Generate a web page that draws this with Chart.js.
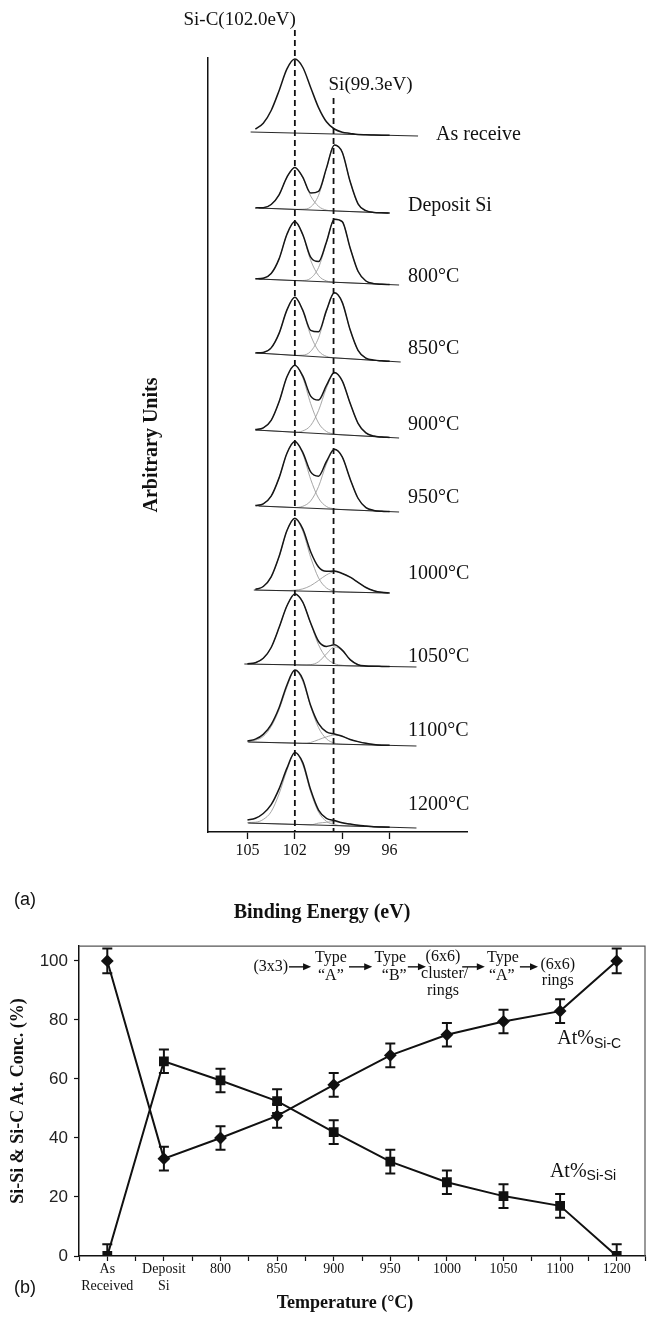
<!DOCTYPE html>
<html>
<head>
<meta charset="utf-8">
<title>Si 2p XPS and Si-Si / Si-C concentration</title>
<script src="https://cdn.jsdelivr.net/npm/chart.js@4.4.1/dist/chart.umd.min.js"></script>
<style>
  html, body { margin: 0; padding: 0; background: #fff; }
  #wrap { position: relative; width: 661px; height: 1326px; overflow: hidden; }
  #xps { position: absolute; left: 0; top: 0; width: 661px; height: 930px; }
  #conc { position: absolute; left: 0; top: 930px; width: 661px; height: 396px; }
</style>
</head>
<body>
<div id="wrap">
  <canvas id="xps" width="661" height="930"></canvas>
  <canvas id="conc" width="661" height="396"></canvas>
</div>
<script>
const SERIF = '"Liberation Serif", "Times New Roman", serif';
const SANS = '"Liberation Sans", Arial, sans-serif';
const INK = '#111';

// ---------- (a) stacked Si 2p spectra ----------
const energy = [105, 104.5, 104, 103.5, 103, 102.5, 102, 101.5, 101, 100.5, 100, 99.5, 99, 98.5, 98, 97.5, 97, 96.5, 96];
const energyTicks = [105, 102, 99, 96];
const sampleNames = ['As receive', 'Deposit Si', '800°C', '850°C', '900°C', '950°C', '1000°C', '1050°C', '1100°C', '1200°C'];
const peakSiC = 102.0;
const peakSi = 99.55; // where the dashed Si line sits in the figure
// linear background under each spectrum (energy and height at both ends)
const bgFrom = [104.8, 104.3, 104.3, 104.4, 104.5, 104.3, 104.6, 105.2, 104.95, 104.95];
const bgTo = [94.2, 96.1, 95.4, 95.3, 95.4, 95.4, 96.1, 94.3, 94.3, 94.3];
const bgLeft = [700, 624, 553, 479, 402, 326, 242, 168, 90, 9];
const bgRight = [696, 619, 547, 470, 394, 320, 239, 165, 86, 4];
// fitted envelope, height above background
const envelope = [
  [null, 3, 9, 22, 42, 64, 74, 66, 46, 26, 12, 5, 2, 1, 0, 0, 0, 0, 0],
  [null, 0, 0.5, 4, 14, 32, 42, 32.5, 17, 19, 42.5, 66, 59, 30, 8, 1.5, 0, 0, 0],
  [null, 0, 1, 6, 21, 46, 59, 46.4, 24, 20, 40, 63, 61, 35, 12, 2.6, 0.3, 0, 0],
  [null, 0, 1, 6, 21, 45, 58, 45.7, 26, 25, 47, 65, 56, 29, 9, 1.7, 0.2, 0, 0],
  [null, 0.4, 2.5, 10.5, 29.5, 55, 67, 56.7, 37, 33.5, 48.5, 62, 54, 32, 12.4, 3.2, 0.5, 0, 0],
  [null, 0.4, 2.4, 10.4, 29, 54, 66, 55.6, 36.3, 32.4, 47.4, 59.9, 52.6, 31, 12, 3, 0.5, 0, 0],
  [null, 0.7, 3.7, 13.5, 34, 60.2, 72.7, 62.2, 39.6, 24.5, 20.4, 20.7, 18.5, 15, 10, 5, 2, 0.5, 0],
  [0.3, 1.5, 6, 17, 37, 59, 71, 63, 42.2, 24, 19, 20.7, 15.6, 6.2, 1.3, 0.2, 0, 0, 0],
  [1, 3, 8, 18, 35, 58, 73, 64, 38, 20, 12, 10, 8, 5, 3, 1.5, 0.5, 0, 0],
  [3, 5, 10, 19, 35, 56, 72, 62, 35, 15, 7, 5, 3, 2, 1, 0.5, 0, 0, 0]
];
// Si-C component
const compSiC = [
  null,
  [null, 0, 0.5, 4, 14, 32, 42, 32, 14, 4, 0.5, 0, 0, 0, 0, 0, 0, 0, 0],
  [null, 0, 1, 6, 21, 46, 59, 46, 21, 6, 1, 0, 0, 0, 0, 0, 0, 0, 0],
  [null, 0, 1, 6, 21, 45, 58, 45, 21, 6, 1, 0, 0, 0, 0, 0, 0, 0, 0],
  [null, 0.4, 2.5, 10.5, 29.5, 55, 67, 55, 29.5, 10.5, 2.5, 0.4, 0, 0, 0, 0, 0, 0, 0],
  [null, 0.4, 2.4, 10.4, 29, 54, 66, 54, 29, 10.4, 2.4, 0.4, 0, 0, 0, 0, 0, 0, 0],
  [null, 0.7, 3.7, 13.5, 34, 60, 72, 60, 34, 13.5, 3.7, 0.7, 0, 0, 0, 0, 0, 0, 0],
  [0.3, 1.5, 6, 17, 37, 59, 71, 63, 41.7, 20.5, 7.5, 2, 0.4, 0, 0, 0, 0, 0, 0],
  [0.5, 2, 6, 16, 33, 56, 73, 62, 37, 16, 5, 1, 0, 0, 0, 0, 0, 0, 0],
  [0.5, 1, 4, 12, 30, 54, 72, 60, 33, 13, 4, 1, 0, 0, 0, 0, 0, 0, 0]
];
// elemental Si component
const compSi = [
  null,
  [null, 0, 0, 0, 0, 0, 0, 0.5, 3, 15, 42, 66, 59, 30, 8, 1.5, 0, 0, 0],
  [null, 0, 0, 0, 0, 0, 0, 0.4, 3, 14, 39, 63, 61, 35, 12, 2.6, 0.3, 0, 0],
  [null, 0, 0, 0, 0, 0, 0, 0.7, 5, 19, 46, 65, 56, 29, 9, 1.7, 0.2, 0, 0],
  [null, 0, 0, 0, 0, 0, 0, 1.7, 7.6, 23, 46, 61.5, 54, 32, 12.4, 3.2, 0.5, 0, 0],
  [null, 0, 0, 0, 0, 0, 0, 1.6, 7.3, 22, 45, 59.5, 52.6, 31, 12, 3, 0.5, 0, 0],
  [null, 0, 0, 0, 0, 0.2, 0.7, 2.2, 5.6, 11, 16.7, 20, 18.5, 15, 10, 5, 2, 0.5, 0],
  [0, 0, 0, 0, 0, 0, 0, 0, 0.5, 3.5, 11.5, 18.7, 15.2, 6.2, 1.3, 0.2, 0, 0, 0],
  [0, 0, 0, 0, 0, 0, 0, 0, 1, 4, 7, 9, 8, 5, 3, 1.5, 0.5, 0, 0],
  [0, 0, 0, 0, 0, 0, 0, 0, 0, 2, 3, 4, 3, 2, 1, 0.5, 0, 0, 0]
];

// ---------- (b) concentration vs temperature ----------
const temps = [['As', 'Received'], ['Deposit', 'Si'], '800', '850', '900', '950', '1000', '1050', '1100', '1200'];
const atSiC = [100, 33, 40, 47.5, 58, 68, 75, 79.5, 83, 100];
const atSiSi = [0, 66, 59.5, 52.5, 42, 32, 25, 20.3, 17, 0];
const errSiC = [4.2, 4, 4, 4, 4, 4, 4, 4, 4, 4.2];
const errSiSi = [4, 4, 4, 4, 4, 4, 4, 4, 4, 4];
const concTicks = [0, 20, 40, 60, 80, 100];

// background under spectrum i at energy e
function bgAt(i, e) {
  const t = (bgFrom[i] - e) / (bgFrom[i] - bgTo[i]);
  return bgLeft[i] + (bgRight[i] - bgLeft[i]) * t;
}

const xpsSets = [];
sampleNames.forEach((name, i) => {
  const onBg = arr => energy.map((e, k) => ({ x: e, y: arr[k] == null ? null : bgAt(i, e) + arr[k] }));
  [compSiC[i], compSi[i]].forEach(c => {
    if (c) xpsSets.push({ label: name, data: onBg(c), borderColor: '#9c9c9c', borderWidth: 0.9, cubicInterpolationMode: 'monotone', order: 3 });
  });
  xpsSets.push({
    label: name + ' bg',
    data: [{ x: bgFrom[i], y: bgLeft[i] }, { x: bgTo[i], y: bgRight[i] }],
    borderColor: '#2a2a2a', borderWidth: 1.1, order: 2
  });
  xpsSets.push({ label: name + ' fit', data: onBg(envelope[i]), borderColor: '#161616', borderWidth: 1.5, cubicInterpolationMode: 'monotone', order: 1 });
});

//label lift above the right end of each background line (px)
const labelLift = [1, 7, 8, 13, 13, 14, 19, 10, 15, 23];

const xpsDecor = {
  id: 'xpsDecor',
  afterDatasetsDraw(chart) {
    const { ctx, chartArea: a, scales: { x, y } } = chart;
    ctx.save();
    ctx.strokeStyle = INK;
    ctx.lineWidth = 1.8;
    ctx.setLineDash([6, 4]);
    const xc = x.getPixelForValue(peakSiC);
    const xs = x.getPixelForValue(peakSi);
    ctx.beginPath();
    ctx.moveTo(xc, a.top - 28); ctx.lineTo(xc, a.bottom);
    ctx.moveTo(xs, a.top + 40); ctx.lineTo(xs, a.bottom);
    ctx.stroke();
    ctx.setLineDash([]);

    ctx.fillStyle = INK;
    ctx.textBaseline = 'middle';
    ctx.font = `19px ${SERIF}`;
    ctx.textAlign = 'right';
    ctx.fillText('Si-C(102.0eV)', xc + 1, a.top - 38);
    ctx.textAlign = 'left';
    ctx.fillText('Si(99.3eV)', xs - 5, a.top + 27);

    ctx.font = `20px ${SERIF}`;
    sampleNames.forEach((n, i) => {
      const lx = a.right - 59 + (i === 0 ? 28 : 0);
      ctx.fillText(n, lx, y.getPixelForValue(bgRight[i]) - labelLift[i]);
    });

    // axis titles and panel tag
    ctx.font = `bold 20px ${SERIF}`;
    ctx.textAlign = 'center';
    ctx.fillText('Binding Energy (eV)', 322, 913);
    ctx.save();
    ctx.translate(a.left - 56, (a.top + a.bottom) / 2);
    ctx.rotate(-Math.PI / 2);
    ctx.fillText('Arbitrary Units', 0, 0);
    ctx.restore();
    ctx.font = `18px ${SANS}`;
    ctx.fillText('(a)', 25, 900);
    ctx.restore();
  }
};

new Chart(document.getElementById('xps'), {
  type: 'line',
  data: { datasets: xpsSets },
  options: {
    responsive: false,
    animation: false,
    events: [],
    layout: { padding: { left: 0, right: 194, top: 58, bottom: 0 } },
    elements: { point: { radius: 0 }, line: { fill: false } },
    plugins: { legend: { display: false }, tooltip: { enabled: false } },
    scales: {
      x: {
        type: 'linear', reverse: true, min: 91.1, max: 107.5,
        afterBuildTicks: s => { s.ticks = energyTicks.map(v => ({ value: v })); },
        afterFit: s => { s.height = 98; },
        grid: { drawOnChartArea: false, tickLength: 7, color: INK, tickWidth: 1.3 },
        border: { color: INK, width: 1.5 },
        ticks: { font: { family: SERIF, size: 16 }, color: INK, padding: 2, maxRotation: 0, autoSkip: false }
      },
      y: {
        type: 'linear', min: 0, max: 774,
        afterFit: s => { s.width = 208; },
        ticks: { display: false },
        grid: { display: false },
        border: { color: INK, width: 1.5 }
      }
    }
  },
  plugins: [xpsDecor]
});

// ---------- (b) ----------
const stageText = [
  { t: '(3x3)', x: 2.89, y: 98.0 },
  { t: 'Type', x: 3.95, y: 101.0 }, { t: '\u201CA\u201D', x: 3.95, y: 95.0 },
  { t: 'Type', x: 5.0, y: 101.0 }, { t: '\u201CB\u201D', x: 5.07, y: 95.0 },
  { t: '(6x6)', x: 5.93, y: 101.5 }, { t: 'cluster/', x: 5.96, y: 95.6 }, { t: 'rings', x: 5.93, y: 90.0 },
  { t: 'Type', x: 6.99, y: 101.0 }, { t: '\u201CA\u201D', x: 6.97, y: 95.0 },
  { t: '(6x6)', x: 7.96, y: 98.7 }, { t: 'rings', x: 7.96, y: 93.3 }
];
const stageArrows = [[3.21, 3.60], [4.27, 4.68], [5.31, 5.63], [6.27, 6.67], [7.29, 7.61]];
const arrowLevel = 98.0;

const concDecor = {
  id: 'concDecor',
  beforeDatasetsDraw(chart) {
    const { ctx, chartArea: a } = chart;
    ctx.save();
    ctx.strokeStyle = '#555';
    ctx.lineWidth = 1.2;
    ctx.beginPath();
    ctx.moveTo(a.left, a.top); ctx.lineTo(a.right, a.top); ctx.lineTo(a.right, a.bottom);
    ctx.stroke();
    ctx.restore();
  },
  afterDatasetsDraw(chart) {
    const { ctx, chartArea: a, scales: { x, y } } = chart;
    ctx.save();
    // error bars
    ctx.beginPath();
    ctx.rect(a.left, a.top, a.right - a.left, a.bottom - a.top);
    ctx.clip();
    ctx.strokeStyle = INK;
    ctx.lineWidth = 2;
    [[atSiC, errSiC], [atSiSi, errSiSi]].forEach(([vals, errs]) => {
      vals.forEach((v, k) => {
        const px = x.getPixelForValue(k);
        const hi = y.getPixelForValue(v + errs[k]);
        const lo = y.getPixelForValue(v - errs[k]);
        ctx.beginPath();
        ctx.moveTo(px, hi); ctx.lineTo(px, lo);
        ctx.moveTo(px - 5, hi); ctx.lineTo(px + 5, hi);
        ctx.moveTo(px - 5, lo); ctx.lineTo(px + 5, lo);
        ctx.stroke();
      });
    });
    ctx.restore();

    ctx.save();
    ctx.fillStyle = INK;
    ctx.strokeStyle = INK;
    ctx.textAlign = 'center';
    ctx.textBaseline = 'middle';
    ctx.font = `16px ${SERIF}`;
    stageText.forEach(s => ctx.fillText(s.t, x.getPixelForValue(s.x), y.getPixelForValue(s.y)));
    ctx.lineWidth = 1.4;
    const ay = y.getPixelForValue(arrowLevel);
    stageArrows.forEach(([f, t]) => {
      const x1 = x.getPixelForValue(f), x2 = x.getPixelForValue(t);
      ctx.beginPath();
      ctx.moveTo(x1, ay); ctx.lineTo(x2 - 6, ay);
      ctx.stroke();
      ctx.beginPath();
      ctx.moveTo(x2, ay); ctx.lineTo(x2 - 8, ay - 3.5); ctx.lineTo(x2 - 8, ay + 3.5);
      ctx.closePath();
      ctx.fill();
    });

    // series labels At%Si-C / At%Si-Si
    ctx.textAlign = 'left';
    const tag = (sub, xv, yv) => {
      const px = x.getPixelForValue(xv), py = y.getPixelForValue(yv);
      ctx.font = `20px ${SERIF}`;
      ctx.fillText('At%', px, py);
      const w = ctx.measureText('At%').width;
      ctx.font = `14px ${SANS}`;
      ctx.fillText(sub, px + w, py + 5);
    };
    tag('Si-C', 7.95, 73.6);
    tag('Si-Si', 7.82, 28.7);

    // titles
    ctx.textAlign = 'center';
    ctx.font = `bold 18px ${SERIF}`;
    ctx.fillText('Temperature (°C)', 345, 373);
    ctx.save();
    ctx.translate(18, (a.top + a.bottom) / 2);
    ctx.rotate(-Math.PI / 2);
    ctx.fillText('Si-Si & Si-C At. Conc. (%)', 0, 0);
    ctx.restore();
    ctx.font = `18px ${SANS}`;
    ctx.fillText('(b)', 25, 358);
    ctx.restore();
  }
};

new Chart(document.getElementById('conc'), {
  type: 'line',
  data: {
    datasets: [
      {
        label: 'At% Si-C',
        data: atSiC.map((v, i) => ({ x: i, y: v })),
        borderColor: INK, backgroundColor: INK, borderWidth: 2,
        pointStyle: 'rectRot', pointRadius: 5
      },
      {
        label: 'At% Si-Si',
        data: atSiSi.map((v, i) => ({ x: i, y: v })),
        borderColor: INK, backgroundColor: INK, borderWidth: 2,
        pointStyle: 'rect', pointRadius: 5.5
      }
    ]
  },
  options: {
    responsive: false,
    animation: false,
    events: [],
    layout: { padding: { left: 0, right: 16, top: 4, bottom: 0 } },
    plugins: { legend: { display: false }, tooltip: { enabled: false } },
    scales: {
      x: {
        type: 'linear', min: -0.5, max: 9.5,
        afterFit: s => { s.height = 70; },
        grid: { drawOnChartArea: false, tickLength: 5, color: INK, tickWidth: 1.2 },
        border: { color: INK, width: 1.5 },
        ticks: {
          stepSize: 0.5, autoSkip: false, maxRotation: 0, padding: 0,
          font: { family: SERIF, size: 14 }, color: INK,
          callback: v => {
            const r = Math.round(v);
            return Math.abs(v - r) < 1e-6 && temps[r] !== undefined ? temps[r] : '';
          }
        }
      },
      y: {
        type: 'linear', min: 0, max: 105,
        afterBuildTicks: s => { s.ticks = concTicks.map(v => ({ value: v })); },
        afterFit: s => { s.width = 79; },
        grid: { drawOnChartArea: false, tickLength: 5, color: INK, tickWidth: 1.2 },
        border: { color: INK, width: 1.5 },
        ticks: { font: { family: SANS, size: 17 }, color: '#222', padding: 6 }
      }
    }
  },
  plugins: [concDecor]
});
</script>
</body>
</html>
